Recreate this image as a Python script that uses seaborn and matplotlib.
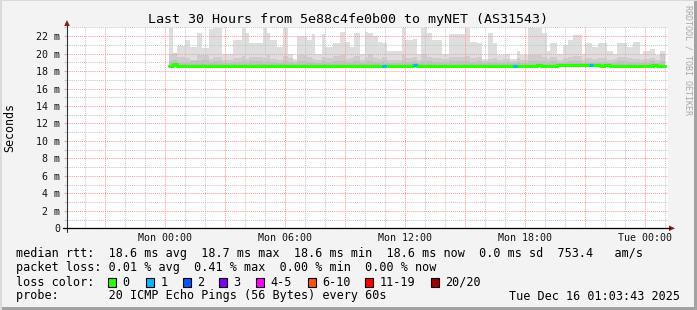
import matplotlib
matplotlib.use("Agg")
import numpy as np
import pandas as pd
import seaborn as sns
import matplotlib.pyplot as plt
from matplotlib.patches import Rectangle, Polygon
from matplotlib.lines import Line2D
from matplotlib.ticker import MultipleLocator, FuncFormatter

# ---------------- data (hours relative to Mon 00:00, values in ms) ----------------
seg_t = [0.2, 0.38, 0.58, 1.0, 1.25, 1.58, 1.83, 2.22, 2.42, 2.83,
         3.42, 3.83, 4.0, 4.22, 4.92, 5.08, 5.25, 5.58, 5.92, 6.17,
         6.42, 6.62, 7.08, 7.33, 7.5, 7.83, 8.0, 8.42, 8.75, 9.0,
         9.25, 9.45, 9.75, 10.0, 10.17, 10.42, 10.67, 10.83, 11.08, 11.83,
         12.0, 12.42, 12.58, 12.78, 13.08, 13.33, 13.83, 14.22, 15.0, 15.25,
         15.58, 15.83, 16.17, 16.42, 16.58, 16.92, 17.25, 17.58, 17.75, 18.17,
         18.83, 19.08, 19.25, 19.58, 19.92, 20.17, 20.42, 20.83, 21.0, 21.33,
         21.67, 22.08, 22.42, 22.58, 23.08, 23.42, 23.75, 23.92, 24.25, 24.5,
         24.75, 25.0]
smoke_max = [22.9, 20.1, 20.9, 21.5, 20.8, 22.4, 20.6, 22.8, 22.9, 20.0,
             21.6, 22.9, 22.3, 21.2, 22.9, 22.3, 21.5, 20.8, 22.9, 20.0,
             19.4, 22.0, 21.5, 22.2, 20.0, 22.2, 20.8, 21.2, 22.5, 21.3,
             20.8, 22.3, 20.0, 22.5, 22.4, 22.0, 21.3, 21.2, 20.3, 22.9,
             21.5, 21.7, 20.0, 22.9, 22.3, 21.6, 20.0, 22.2, 22.9, 21.3,
             21.2, 19.4, 22.3, 21.2, 19.8, 20.0, 19.4, 20.3, 19.8, 22.9,
             22.3, 20.3, 21.2, 20.0, 21.0, 21.5, 22.1, 20.0, 21.2, 20.8,
             21.2, 20.3, 20.0, 21.2, 20.8, 21.3, 20.0, 20.3, 20.5, 19.8,
             20.3]
smoke_mid = [19.9, 20.1, 19.6, 19.5, 19.3, 19.8, 19.8, 19.4, 19.6, 19.3,
             19.5, 19.7, 19.4, 19.6, 19.5, 19.8, 19.4, 19.3, 19.7, 19.5,
             19.2, 19.8, 19.6, 19.4, 19.3, 19.6, 19.5, 19.7, 19.8, 19.4,
             19.5, 19.7, 19.3, 19.6, 19.9, 19.5, 19.4, 19.6, 19.3, 19.8,
             19.5, 19.6, 19.3, 19.9, 19.6, 19.5, 19.4, 19.6, 19.7, 19.5,
             19.6, 19.2, 19.4, 19.5, 19.3, 19.4, 19.2, 19.5, 19.3, 19.8,
             19.6, 19.4, 19.6, 19.3, 19.5, 19.6, 19.7, 19.3, 19.5, 19.4,
             19.5, 19.3, 19.4, 19.6, 19.5, 19.4, 19.3, 19.4, 19.5, 19.3,
             19.9]
smoke_low = [19.1, 19.3, 19.0, 19.0, 19.1, 19.2, 19.3, 19.0, 19.1, 18.9,
             19.0, 19.2, 19.0, 19.1, 19.0, 19.2, 19.0, 18.9, 19.1, 19.0,
             18.9, 19.2, 19.0, 19.0, 18.9, 19.1, 19.0, 19.1, 19.2, 19.0,
             19.0, 19.1, 18.9, 19.1, 19.2, 19.0, 19.0, 19.1, 18.9, 19.2,
             19.0, 19.1, 18.9, 19.2, 19.1, 19.0, 19.0, 19.1, 19.1, 19.0,
             19.1, 18.9, 19.0, 19.0, 18.9, 19.0, 18.9, 19.0, 18.9, 19.2,
             19.1, 19.0, 19.1, 18.9, 19.0, 19.1, 19.1, 18.9, 19.0, 19.0,
             19.0, 18.9, 19.0, 19.1, 19.0, 19.0, 18.9, 19.0, 19.1, 18.9,
             19.2]
smoke_base = 18.45

med_t = [0.2, 0.38, 0.58, 10.83, 11.03, 12.42, 12.62, 17.42, 17.62, 18.6,
         18.8, 19.6, 21.2, 21.4, 21.75, 21.95, 22.25, 24.4, 24.6, 25.0]
med_v = [18.6, 18.8, 18.6, 18.6, 18.6, 18.65, 18.6, 18.6, 18.6, 18.7,
         18.6, 18.75, 18.75, 18.75, 18.55, 18.75, 18.6, 18.75, 18.6]
med_loss = [0, 0, 0, 1, 0, 1, 0, 1, 0, 0,
            0, 0, 1, 0, 0, 0, 0, 0, 0]

loss_labels = ["0", "1", "2", "3", "4-5", "6-10", "11-19", "20/20"]
loss_colors = ["#26ff00", "#00b8ff", "#0059ff", "#7e00ff", "#ff00ff",
               "#ff5500", "#ff0000", "#a10000"]

title = "Last 30 Hours from 5e88c4fe0b00 to myNET (AS31543)"
legend_lines = [
    "median rtt:  18.6 ms avg  18.7 ms max  18.6 ms min  18.6 ms now  0.0 ms sd  753.4   am/s",
    "packet loss: 0.01 % avg  0.41 % max  0.00 % min  0.00 % now",
]
probe_text = "probe:       20 ICMP Echo Pings (56 Bytes) every 60s"
date_text = "Tue Dec 16 01:03:43 2025"
day_names = {-1: "Sun", 0: "Mon", 1: "Tue"}

# ---------------- layout ----------------
W, H = 697, 310
sns.set_style("white")
plt.rcParams["font.family"] = ["DejaVu Sans Mono", "DejaVu Sans"]

def fx(x):
    return x / W

def fy(y):
    return 1 - y / H

fig = plt.figure(figsize=(W / 100, H / 100), dpi=100, facecolor="#F3F3F3")
L, R, T, B = 67, 668, 27, 228.3
ax = fig.add_axes([fx(L), fy(B), (R - L) / W, (B - T) / H])
ax.set_facecolor("white")
px_per_ms = 8.736
hour_px = 20.0
x0 = -(165 - L) / hour_px
ax.set_xlim(x0, x0 + (R - L) / hour_px)
ax.set_ylim(0, (B - T) / px_per_ms)

# smoke
t_arr = np.array(seg_t)
for vals, col in [(smoke_max, "#dedede"), (smoke_mid, "#cdcdcd"), (smoke_low, "#bfbfbf")]:
    v = np.append(vals, vals[-1])
    ax.fill_between(t_arr, smoke_base, v, step="post", color=col, lw=0, zorder=1)

# median line
df = pd.DataFrame({"t": med_t, "v": med_v + [med_v[-1]]})
sns.lineplot(data=df, x="t", y="v", drawstyle="steps-post", color=loss_colors[0],
             lw=2.3, ax=ax, sort=False, estimator=None, zorder=3)
for i, lv in enumerate(med_loss):
    if lv > 0:
        ax.hlines(med_v[i], med_t[i], med_t[i + 1], color=loss_colors[lv], lw=2.3, zorder=4)
ax.set_xlabel("")
ax.set_ylabel("")

# grid
ax.xaxis.set_major_locator(MultipleLocator(3))
ax.xaxis.set_minor_locator(MultipleLocator(1))
ax.yaxis.set_major_locator(MultipleLocator(2))
ax.yaxis.set_minor_locator(MultipleLocator(1))
ax.set_axisbelow(False)
ax.grid(which="major", color="#ff9a9a", ls=(0, (1, 1)), lw=0.75)
ax.grid(which="minor", color="#c8c8c8", ls=(0, (1, 1)), lw=0.75)

def xfmt(v, pos):
    h = int(round(v))
    if h % 6 != 0:
        return ""
    return f"{day_names[h // 24]} {h % 24:02d}:00"

def yfmt(v, pos):
    n = int(round(v))
    return "0" if n == 0 else f"{n} m"

ax.xaxis.set_major_formatter(FuncFormatter(xfmt))
ax.yaxis.set_major_formatter(FuncFormatter(yfmt))
ax.tick_params(axis="x", which="both", length=0, pad=3.5, labelsize=7.2, labelcolor="#111111")
ax.tick_params(axis="y", which="major", length=2.5, width=0.75, color="#ff9a9a", pad=2.6,
               labelsize=7.2, labelcolor="#111111", left=True)
ax.tick_params(axis="y", which="minor", length=2.5, width=0.75, color="#c8c8c8", left=True)
for s in ax.spines.values():
    s.set_visible(False)

# axes lines and arrows
fig.add_artist(Line2D([fx(L), fx(L)], [fy(B + 4), fy(T - 2)], color="#333333", lw=0.8))
fig.add_artist(Line2D([fx(L - 4), fx(R + 2)], [fy(B), fy(B)], color="#000000", lw=0.9))
fig.add_artist(Polygon([[fx(L - 2.8), fy(T - 1)], [fx(L + 2.8), fy(T - 1)], [fx(L), fy(T - 7)]],
                       closed=True, color="#8b1a1a", lw=0))
fig.add_artist(Polygon([[fx(R + 1), fy(B - 2.8)], [fx(R + 1), fy(B + 2.8)], [fx(R + 7), fy(B)]],
                       closed=True, color="#8b1a1a", lw=0))

# frame edges
fig.add_artist(Rectangle((fx(694), 0), 3 / W, 1, color="#a2a2a2", lw=0))
fig.add_artist(Rectangle((0, 0), 1, 3 / H, color="#a2a2a2", lw=0))
fig.add_artist(Rectangle((0, 0), 2 / W, 1, color="#dadada", lw=0))
fig.add_artist(Rectangle((0, fy(1)), 1, 1 / H, color="#dadada", lw=0))

# texts
fig.text(fx(348), fy(19), title, ha="center", va="center", fontsize=9.6, color="#000000")
fig.text(fx(10), fy(128), "Seconds", rotation=90, ha="center", va="center", fontsize=8.4,
         color="#000000")
fig.text(fx(688), fy(5), "RRDTOOL / TOBI OETIKER", rotation=270, ha="center", va="top",
         fontsize=6.0, color="#a8a8a8")

line_y = [254, 268, 282, 296]
for s, yy in zip(legend_lines, line_y[:2]):
    fig.text(fx(16), fy(yy), s, ha="left", va="center", fontsize=8.5, color="#000000")
fig.text(fx(16), fy(line_y[2]), "loss color:", ha="left", va="center", fontsize=8.5, color="#000000")
box_x = [108, 146, 183, 219, 256, 308, 365, 431]
for bx, lab, col in zip(box_x, loss_labels, loss_colors):
    fig.add_artist(Rectangle((fx(bx), fy(line_y[2] + 4.5)), 8 / W, 9 / H, facecolor=col,
                             edgecolor="#000000", lw=0.8))
    fig.text(fx(bx + 14.5), fy(line_y[2]), lab, ha="left", va="center", fontsize=8.5, color="#000000")
fig.text(fx(16), fy(line_y[3]), probe_text, ha="left", va="center", fontsize=8.5, color="#000000")
fig.text(fx(680), fy(line_y[3]), date_text, ha="right", va="center", fontsize=8.5, color="#000000")

fig.savefig("out.png", dpi=100, facecolor=fig.get_facecolor())
